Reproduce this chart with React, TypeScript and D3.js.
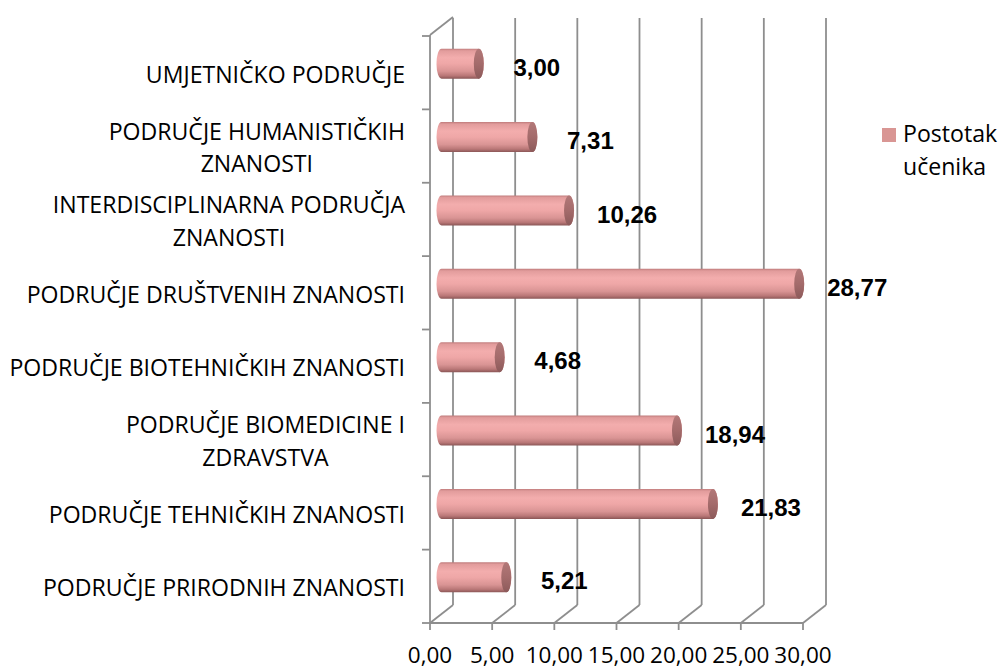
import React, { useEffect, useRef } from 'react';
import * as d3 from 'd3';

// top-to-bottom order as drawn
const categories = [
  'UMJETNIČKO PODRUČJE',
  'PODRUČJE HUMANISTIČKIH\nZNANOSTI',
  'INTERDISCIPLINARNA PODRUČJA\nZNANOSTI',
  'PODRUČJE DRUŠTVENIH ZNANOSTI',
  'PODRUČJE BIOTEHNIČKIH ZNANOSTI',
  'PODRUČJE BIOMEDICINE I\nZDRAVSTVA',
  'PODRUČJE TEHNIČKIH ZNANOSTI',
  'PODRUČJE PRIRODNIH ZNANOSTI',
];
const values = [3.0, 7.31, 10.26, 28.77, 4.68, 18.94, 21.83, 5.21];
const xTicks = [0, 5, 10, 15, 20, 25, 30];
const seriesName = ['Postotak', 'učenika'];

const W = 998;
const H = 669;

const fmt = (v: number) => d3.format('.2f')(v).replace('.', ',');

const App: React.FC = () => {
  const svgRef = useRef<SVGSVGElement>(null);

  useEffect(() => {
    if (!svgRef.current) return;
    const svg = d3.select(svgRef.current);
    svg.selectAll('*').remove();

    const left = 430, right = 803, top = 36, bottom = 623;
    const dx = 23, dy = -18; // depth of the 3d box
    const grid = '#8e8e8e';
    const labelFont = '"Open Sans", sans-serif';

    const x = d3.scaleLinear().domain([0, 30]).range([left, right]);
    const y = d3.scaleBand<string>().domain(categories).range([top, bottom]);
    const bw = y.bandwidth();

    svg.append('rect').attr('width', W).attr('height', H).attr('fill', '#fff');

    const defs = svg.append('defs');
    const body = defs.append('linearGradient').attr('id', 'cyl')
      .attr('x1', 0).attr('y1', 0).attr('x2', 0).attr('y2', 1);
    [
      [0, '#c07c7c'], [0.07, '#e29c9c'], [0.3, '#f3adad'], [0.5, '#efa7a7'],
      [0.75, '#d99494'], [0.9, '#b97777'], [1, '#8a5656'],
    ].forEach(([o, c]) => body.append('stop').attr('offset', o as number).attr('stop-color', c as string));
    const cap = defs.append('linearGradient').attr('id', 'cap')
      .attr('x1', 0).attr('y1', 0).attr('x2', 0).attr('y2', 1);
    [[0, '#b27878'], [0.5, '#a46b6b'], [1, '#8c5a5a']]
      .forEach(([o, c]) => cap.append('stop').attr('offset', o as number).attr('stop-color', c as string));

    const lines = svg.append('g').attr('stroke', grid).attr('stroke-width', 1.8).attr('fill', 'none');

    // back wall gridlines + floor diagonals + ticks
    xTicks.forEach(t => {
      const xf = x(t);
      lines.append('line').attr('x1', xf + dx).attr('y1', top + dy).attr('x2', xf + dx).attr('y2', bottom + dy);
      lines.append('line').attr('x1', xf).attr('y1', bottom).attr('x2', xf + dx).attr('y2', bottom + dy);
      lines.append('line').attr('x1', xf).attr('y1', bottom).attr('x2', xf).attr('y2', bottom + 7);
    });
    lines.append('line').attr('x1', left).attr('y1', bottom).attr('x2', right).attr('y2', bottom);
    lines.append('line').attr('x1', left).attr('y1', top - 1).attr('x2', left).attr('y2', bottom);
    lines.append('line').attr('x1', left).attr('y1', top - 1).attr('x2', left + dx).attr('y2', top + dy - 1);
    d3.range(categories.length + 1).forEach(i => {
      const yy = top + i * bw;
      lines.append('line').attr('x1', left - 8).attr('y1', yy).attr('x2', left).attr('y2', yy);
    });

    // cylinders
    const rx = 5, ry = 15;
    const bars = svg.append('g');
    categories.forEach((c, i) => {
      const cy = (y(c) as number) + bw / 2 + dy / 2;
      const x0 = x(0) + dx / 2;
      const x1 = x(values[i]) + dx / 2;
      bars.append('path')
        .attr('d', `M${x0},${cy - ry} L${x1},${cy - ry} A${rx},${ry} 0 0 1 ${x1},${cy + ry} L${x0},${cy + ry} A${rx},${ry} 0 0 1 ${x0},${cy - ry}Z`)
        .attr('fill', 'url(#cyl)');
      bars.append('ellipse')
        .attr('cx', x1).attr('cy', cy).attr('rx', rx).attr('ry', ry)
        .attr('fill', 'url(#cap)');
    });

    // value labels
    categories.forEach((c, i) => {
      svg.append('text')
        .attr('x', x(values[i]) + dx / 2 + 58)
        .attr('y', (y(c) as number) + bw / 2 - 5.5)
        .attr('dy', '0.36em')
        .attr('text-anchor', 'middle')
        .style('font-family', '"Liberation Sans", Arial, sans-serif')
        .style('font-weight', 'bold')
        .style('font-size', '24px')
        .attr('fill', '#000')
        .text(fmt(values[i]));
    });

    // category labels (wrapped lines centred in a right-aligned block)
    categories.forEach(c => {
      const parts = c.split('\n');
      const g = svg.append('g');
      const texts = parts.map((s, j) => g.append('text')
        .attr('y', (y(c) as number) + bw / 2 + 1.5 + (j - (parts.length - 1) / 2) * 32.5)
        .attr('dy', '0.36em')
        .attr('text-anchor', 'middle')
        .style('font-family', labelFont)
        .style('font-size', '23.1px')
        .attr('fill', '#000')
        .text(s));
      const maxW = d3.max(texts, t => (t.node() as SVGTextElement).getComputedTextLength()) || 0;
      texts.forEach(t => t.attr('x', left - 25 - maxW / 2));
    });

    // x tick labels
    xTicks.forEach(t => {
      svg.append('text')
        .attr('x', x(t)).attr('y', 663)
        .attr('text-anchor', 'middle')
        .style('font-family', labelFont)
        .style('font-size', '22.5px')
        .attr('fill', '#000')
        .text(fmt(t));
    });

    // legend
    svg.append('rect').attr('x', 882).attr('y', 128).attr('width', 14).attr('height', 14).attr('fill', '#d99694');
    seriesName.forEach((s, j) => {
      svg.append('text')
        .attr('x', 903).attr('y', 142 + j * 33)
        .style('font-family', labelFont)
        .style('font-size', '23.1px')
        .attr('fill', '#000')
        .text(s);
    });
  }, []);

  return (
    <svg ref={svgRef} width={W} height={H}
      style={{ position: 'absolute', left: 0, top: 0, display: 'block' }} />
  );
};

export default App;
